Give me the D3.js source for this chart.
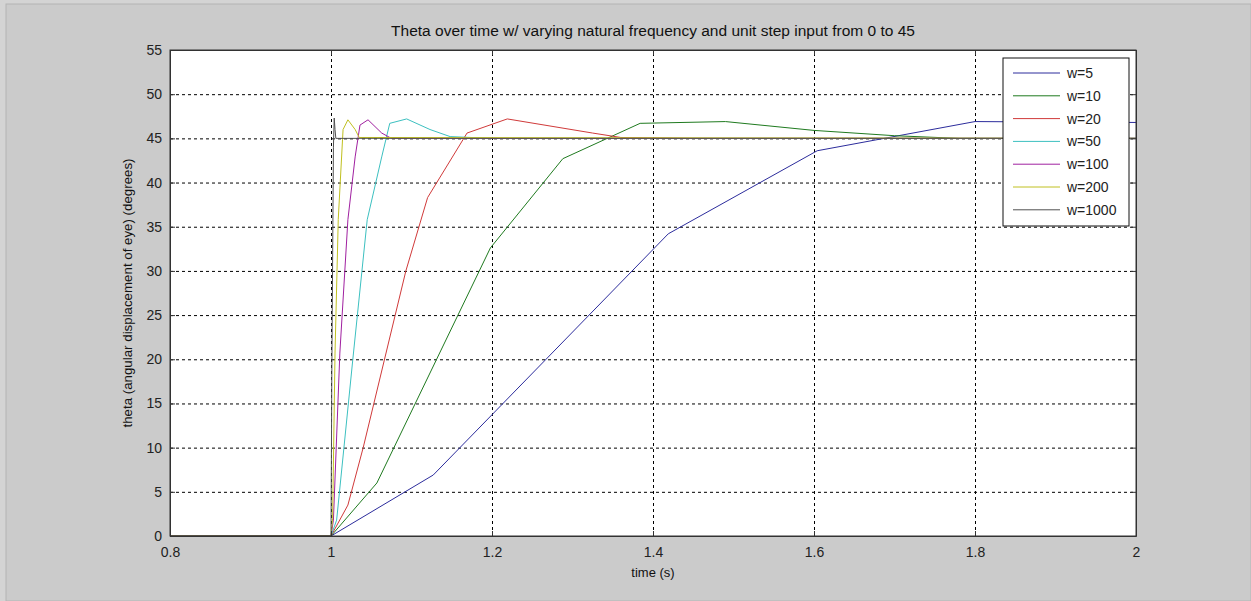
<!DOCTYPE html>
<html lang="en">
<head>
<meta charset="UTF-8">
<title>Theta over time</title>
<style>
    body { margin: 0; background: #d4d4d4; }
    svg { display: block; font-family: "Liberation Sans", Arial, sans-serif; }
    .grid line { stroke: #000; stroke-dasharray: 3,3; stroke-width: 1; }
    .grid path { display: none; }
    .axis path, .axis line { stroke: #333; }
    .axis text { fill: #222; font-size: 14px; }
</style>
</head>
<body>
<svg id="chart" width="1251" height="601"></svg>
<script src="https://d3js.org/d3.v7.min.js"></script>
<script>
// time (s), theta (degrees)
var w5    = [[0.8,0],[1,0],[1.127,6.9],[1.419,34.2],[1.604,43.6],[1.8,46.9],[2,46.8]];
var w10   = [[0.8,0],[1,0],[1.057,6.0],[1.198,32.6],[1.288,42.7],[1.384,46.7],[1.49,46.9],[1.6,45.9],[1.7,45.3],[1.78,45.0],[2,45]];
var w20   = [[0.8,0],[1,0],[1.021,3.5],[1.04,10],[1.093,30],[1.12,38.3],[1.169,45.6],[1.219,47.2],[1.325,45.6],[1.36,45.1],[1.45,45],[2,45]];
var w50   = [[0.8,0],[1,0],[1.007,1.8],[1.027,19.9],[1.045,35.8],[1.063,42.9],[1.073,46.7],[1.094,47.2],[1.123,46.0],[1.148,45.2],[1.2,45],[2,45]];
var w100  = [[0.8,0],[1,0],[1.003,1.8],[1.011,20.7],[1.021,35.8],[1.030,42.9],[1.036,46.5],[1.046,47.1],[1.063,45.6],[1.075,45.0],[2,45]];
var w200  = [[0.8,0],[1,0],[1.002,2],[1.005,20.7],[1.009,35.8],[1.015,46.0],[1.021,47.1],[1.030,46.0],[1.035,45.1],[2,45]];
var w1000 = [[0.8,0],[1,0],[1.001,18],[1.003,44],[1.004,47.3],[1.005,46],[1.006,45],[2,45]];

var seriesNames = ["w=5", "w=10", "w=20", "w=50", "w=100", "w=200", "w=1000"];
var seriesData  = [w5, w10, w20, w50, w100, w200, w1000];
var seriesColors = ["#2c2c9c", "#1f7a1f", "#d03a3a", "#3cc0c0", "#a020a0", "#c0c020", "#505050"];

var xTicks = [0.8, 1, 1.2, 1.4, 1.6, 1.8, 2];
var yTicks = [0, 5, 10, 15, 20, 25, 30, 35, 40, 45, 50, 55];

var margin = { top: 50, left: 170 },
    width = 966,
    height = 486;

var svg = d3.select("#chart");

// figure background
svg.append("rect")
    .attr("x", 6).attr("y", 4)
    .attr("width", 1245).attr("height", 597)
    .attr("fill", "#cbcbcb")
    .attr("stroke", "#b4b4b4");

var g = svg.append("g")
    .attr("transform", "translate(" + margin.left + "," + margin.top + ")");

var x = d3.scaleLinear().domain([0.8, 2]).range([0, width]);
var y = d3.scaleLinear().domain([0, 55]).range([height, 0]);

g.append("rect")
    .attr("width", width).attr("height", height)
    .attr("fill", "#fff");

// grid
g.append("g")
    .attr("class", "grid")
    .call(d3.axisLeft(y).tickValues(yTicks.slice(1, -1)).tickSize(-width).tickFormat(""));
g.append("g")
    .attr("class", "grid")
    .attr("transform", "translate(0," + height + ")")
    .call(d3.axisBottom(x).tickValues(xTicks.slice(1, -1)).tickSize(-height).tickFormat(""));

// lines
var line = d3.line()
    .x(function(d) { return x(d[0]); })
    .y(function(d) { return y(d[1]); });

seriesData.forEach(function(s, i) {
    g.append("path")
        .datum(s)
        .attr("fill", "none")
        .attr("stroke", seriesColors[i])
        .attr("stroke-width", 1)
        .attr("d", line);
});

// axes with inward ticks
g.append("g")
    .attr("class", "axis")
    .attr("transform", "translate(0," + height + ")")
    .call(d3.axisBottom(x).tickValues(xTicks).tickSizeInner(-5).tickSizeOuter(0).tickPadding(11)
        .tickFormat(function(d) { return d3.format("")(+d.toFixed(1)); }));
g.append("g")
    .attr("class", "axis")
    .call(d3.axisLeft(y).tickValues(yTicks).tickSizeInner(-5).tickSizeOuter(0).tickPadding(8));
g.append("g")
    .attr("class", "axis")
    .call(d3.axisTop(x).tickValues(xTicks).tickSizeInner(-5).tickSizeOuter(0).tickFormat(""));
g.append("g")
    .attr("class", "axis")
    .attr("transform", "translate(" + width + ",0)")
    .call(d3.axisRight(y).tickValues(yTicks).tickSizeInner(-5).tickSizeOuter(0).tickFormat(""));

g.append("rect")
    .attr("width", width).attr("height", height)
    .attr("fill", "none")
    .attr("stroke", "#333");

// title and labels
svg.append("text")
    .attr("x", margin.left + width / 2).attr("y", 36)
    .attr("text-anchor", "middle")
    .style("font-size", "15.5px").style("fill", "#111")
    .text("Theta over time w/ varying natural frequency and unit step input from 0 to 45");

svg.append("text")
    .attr("x", margin.left + width / 2).attr("y", 577)
    .attr("text-anchor", "middle")
    .style("font-size", "13px").style("fill", "#111")
    .text("time (s)");

svg.append("text")
    .attr("transform", "translate(132," + (margin.top + height / 2) + ") rotate(-90)")
    .attr("text-anchor", "middle")
    .style("font-size", "13.3px").style("fill", "#111")
    .text("theta (angular displacement of eye) (degrees)");

// legend
var legend = svg.append("g").attr("transform", "translate(1003,58)");
legend.append("rect")
    .attr("width", 126).attr("height", 168)
    .attr("fill", "#fff")
    .attr("stroke", "#111");

var items = legend.selectAll(".item")
    .data(seriesNames)
    .enter().append("g")
    .attr("transform", function(d, i) { return "translate(0," + (15 + i * 22.8) + ")"; });

items.append("line")
    .attr("x1", 10).attr("x2", 57)
    .attr("stroke", function(d, i) { return seriesColors[i]; });

items.append("text")
    .attr("x", 64).attr("dy", "0.35em")
    .style("font-size", "14px").style("fill", "#222")
    .text(function(d) { return d; });
</script>
</body>
</html>
